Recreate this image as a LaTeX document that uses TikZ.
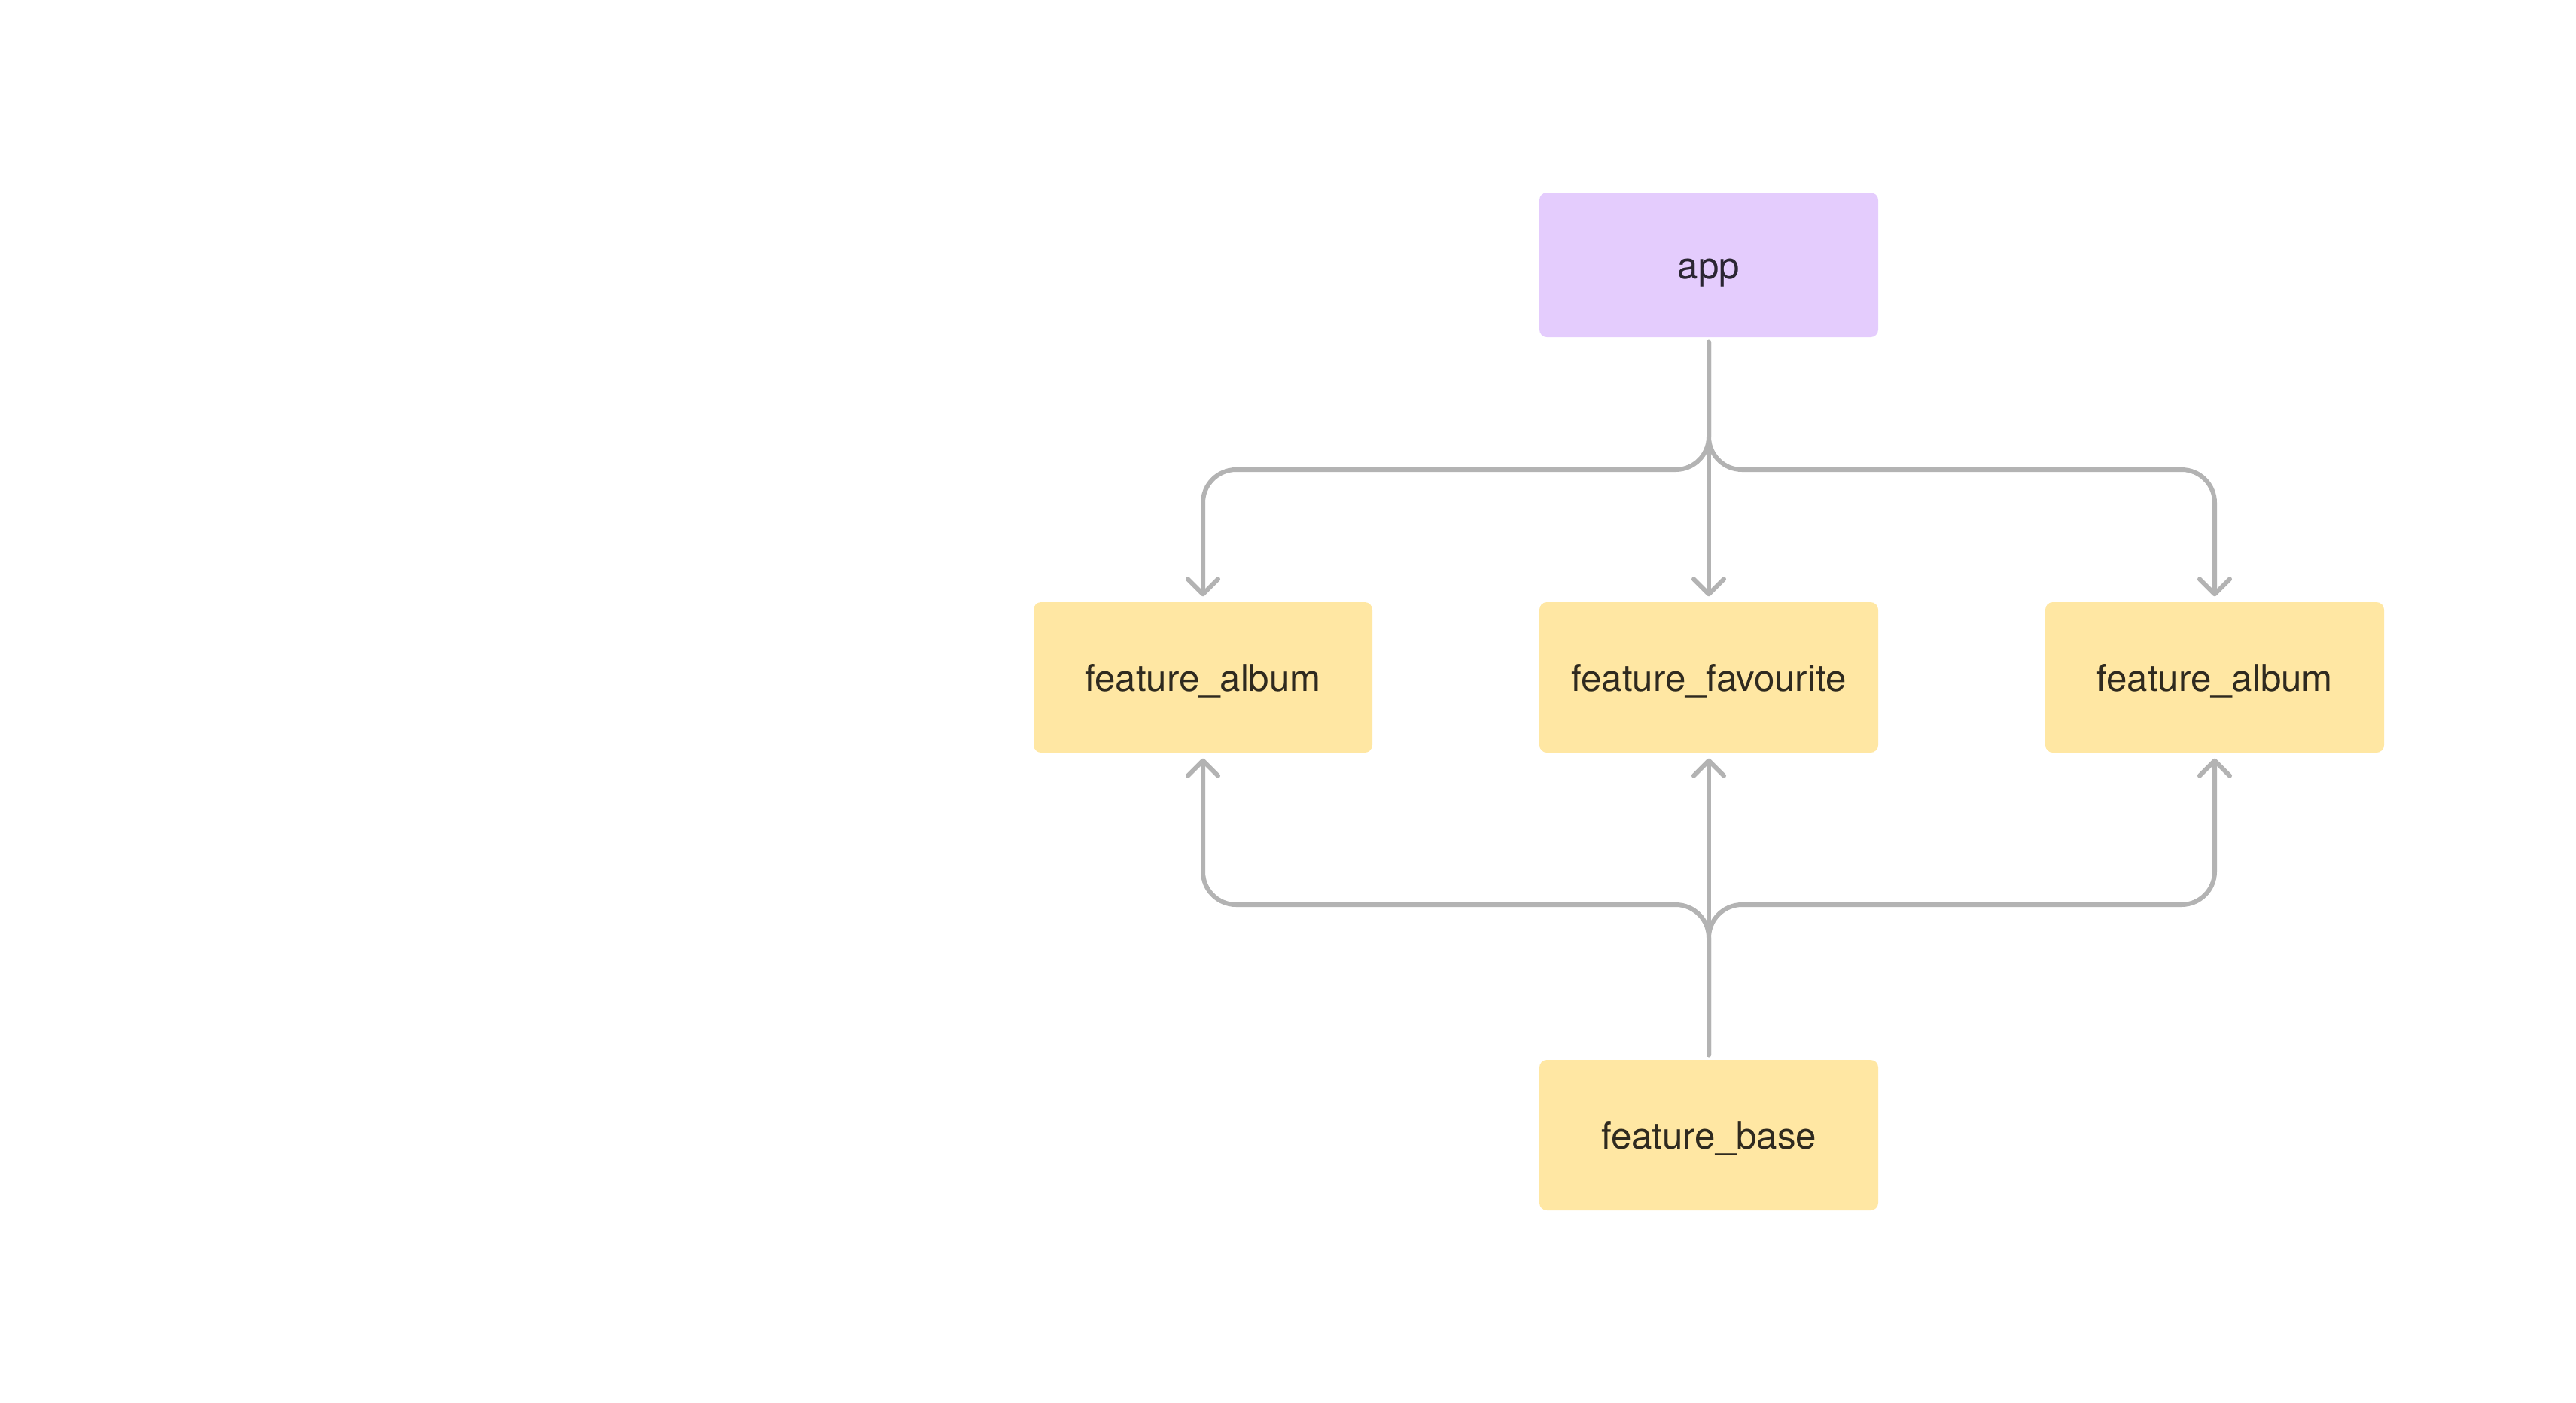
\documentclass[tikz,border=0pt]{standalone}
\usepackage{fontspec}
\setmainfont{TeX Gyre Heros}
\usetikzlibrary{arrows.meta}
\definecolor{purplebox}{HTML}{E4CCFD}
\definecolor{yellowbox}{HTML}{FFE7A3}
\definecolor{linegray}{HTML}{B3B3B3}
\definecolor{txtdark}{HTML}{2F2A1F}
\definecolor{txtpurple}{HTML}{2B2633}
\tikzset{
  box/.style={rectangle, rounded corners=0.1cm, draw=none, minimum width=4.5cm, inner sep=0pt,
    text height=0.5cm, text depth=0.14cm,
    font=\fontsize{14}{17}\selectfont, text=txtdark},
  appbox/.style={box, fill=purplebox, minimum height=1.92cm, text=txtpurple},
  featbox/.style={box, fill=yellowbox, minimum height=2.0cm},
  conn/.style={draw=linegray, line width=0.06cm, line cap=round, rounded corners=0.44cm,
    shorten <=0.06cm, shorten >=0.07cm,
    -{Straight Barb[length=0.2cm,width=0.4cm,line cap=round,line join=round]}}
}
\begin{document}
\begin{tikzpicture}
\useasboundingbox (0,0) rectangle (34.22,-18.64);
\node[appbox] (app) at (22.70,-3.52) {app};
\node[featbox] (fl) at (15.98,-9.00) {feature\_album};
\node[featbox] (fm) at (22.70,-9.00) {feature\_favourite};
\node[featbox] (fr) at (29.42,-9.00) {feature\_album};
\node[featbox] (base) at (22.70,-15.08) {feature\_base};
\coordinate (tj) at (22.70,-6.24);
\coordinate (bj) at (22.70,-12.02);
\draw[conn] (app.south) -- (tj) -| (fl.north);
\draw[conn] (app.south) -- (tj) -| (fr.north);
\draw[conn] (app.south) -- (fm.north);
\draw[conn] (base.north) -- (bj) -| (fl.south);
\draw[conn] (base.north) -- (bj) -| (fr.south);
\draw[conn] (base.north) -- (fm.south);
\end{tikzpicture}
\end{document}
